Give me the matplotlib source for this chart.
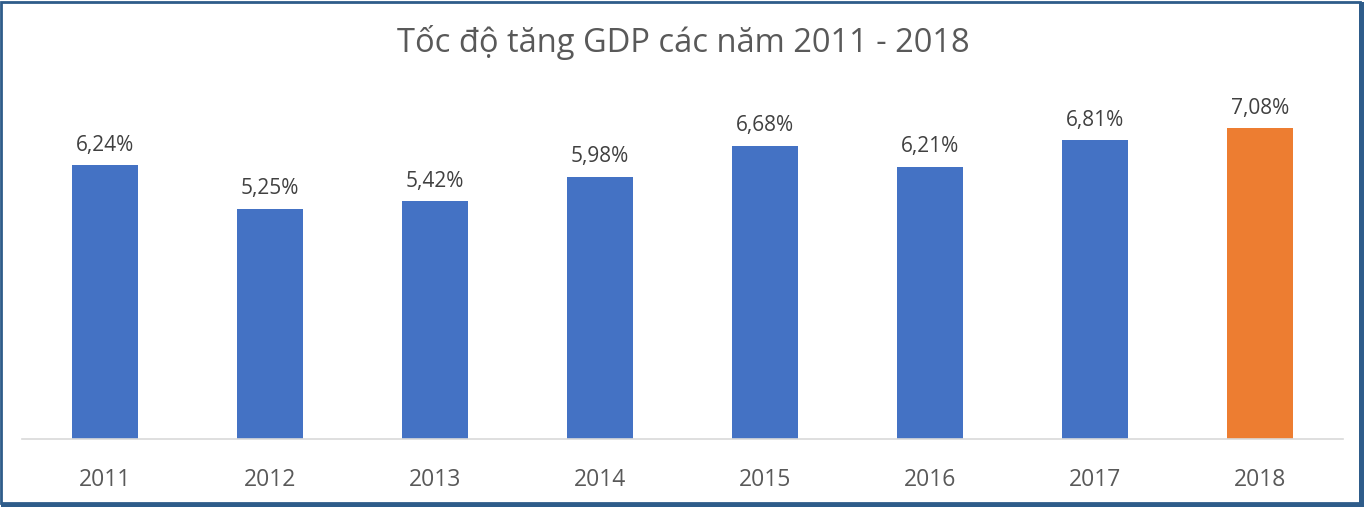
import matplotlib.pyplot as plt
from matplotlib.patches import Rectangle

years = ['2011', '2012', '2013', '2014', '2015', '2016', '2017', '2018']
growth = [6.24, 5.25, 5.42, 5.98, 6.68, 6.21, 6.81, 7.08]
colors = ['#4472C4'] * 7 + ['#ED7D31']

plt.rcParams['font.family'] = ['Open Sans', 'DejaVu Sans']

fig = plt.figure(figsize=(13.66, 5.07), dpi=100)
W, H = 1366, 507
ax = fig.add_axes([22 / W, 1 - 439 / H, (1343 - 22) / W, (439 - 88) / H])

x = range(len(years))
ax.bar(x, growth, width=0.4, color=colors)
for i, v in enumerate(growth):
    ax.text(i, v + 0.22, f'{v:.2f}%'.replace('.', ','), ha='center', va='bottom',
            fontsize=15, color='#404040')

ax.set_xlim(-0.5, 7.5)
ax.set_ylim(0, 8)
ax.set_xticks(list(x))
ax.set_xticklabels(years, fontsize=16.5, color='#595959')
ax.tick_params(axis='x', length=0, pad=21)
ax.set_yticks([])
for s in ['top', 'right', 'left']:
    ax.spines[s].set_visible(False)
ax.spines['bottom'].set_color('#D9D9D9')
ax.spines['bottom'].set_linewidth(1.2)

fig.text(0.5, 1 - 43 / H, 'Tốc độ tăng GDP các năm 2011 - 2018', ha='center', va='center',
         fontsize=23.5, color='#595959')

# frame with a thicker right/bottom edge
fig.patches.append(Rectangle((1 / W, 4 / H), (1360 - 1) / W, (505 - 4) / H,
                             transform=fig.transFigure, fill=False,
                             edgecolor='#2E5C8A', linewidth=2))
fig.patches.append(Rectangle((1359 / W, 0), 5 / W, (505) / H, transform=fig.transFigure,
                             color='#2E5C8A', linewidth=0))
fig.patches.append(Rectangle((1 / W, 0), 1363 / W, 4 / H, transform=fig.transFigure,
                             color='#2E5C8A', linewidth=0))

fig.savefig('out.png', dpi=100)
